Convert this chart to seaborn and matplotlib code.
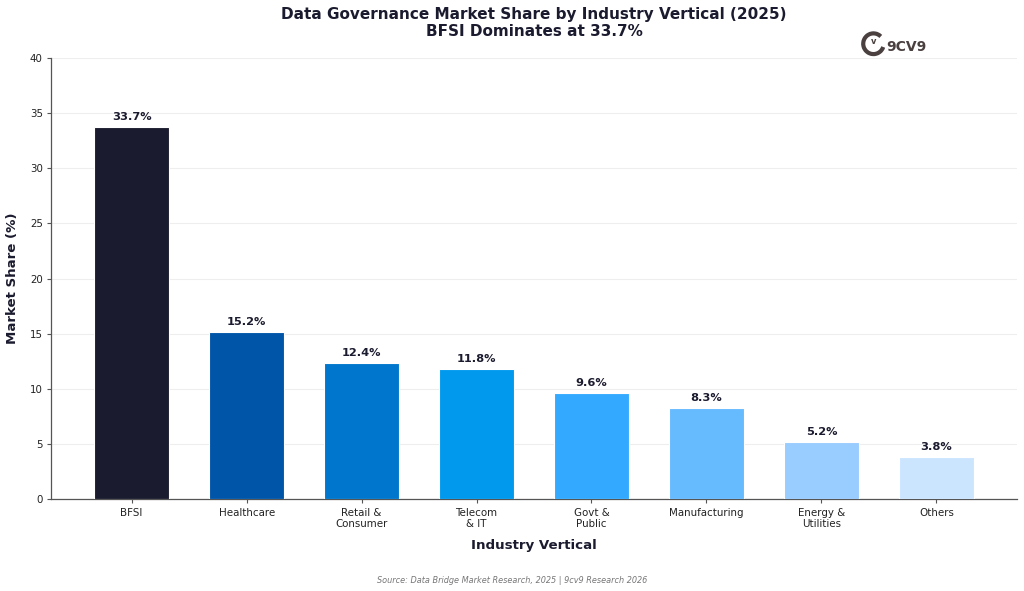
import matplotlib
matplotlib.use("Agg")
import matplotlib.pyplot as plt
import seaborn as sns
import pandas as pd
from matplotlib.patches import Arc

categories = ["BFSI", "Healthcare", "Retail &\nConsumer", "Telecom\n& IT", "Govt &\nPublic",
              "Manufacturing", "Energy &\nUtilities", "Others"]
shares = [33.7, 15.2, 12.4, 11.8, 9.6, 8.3, 5.2, 3.8]
colors = ["#1b1b2f", "#0055a8", "#0077cc", "#0099ee", "#33aaff", "#66bbff", "#99ccff", "#cce5ff"]

df = pd.DataFrame({"cat": categories, "share": shares})

sns.set_theme(style="white")
plt.rcParams['font.family'] = ['DejaVu Sans']

fig, ax = plt.subplots(figsize=(10.24, 5.91), dpi=100)
fig.subplots_adjust(left=0.05, right=0.993, top=0.902, bottom=0.155)

sns.barplot(data=df, x="cat", y="share", hue="cat", palette=colors, legend=False,
            saturation=1, width=0.65, edgecolor="white", linewidth=0.8, ax=ax, zorder=3)

for i, v in enumerate(shares):
    ax.text(i, v + 0.45, f"{v}%", ha="center", va="bottom", fontsize=8.2,
            fontweight="bold", color="#1b1b2f", zorder=4)

ax.set_ylim(0, 40)
ax.set_xlim(-0.7, 7.7)
ax.set_yticks(range(0, 41, 5))
ax.yaxis.grid(True, color="#eeeeee", linewidth=0.8, zorder=0)
ax.set_axisbelow(True)
for s in ["top", "right"]:
    ax.spines[s].set_visible(False)
for s in ["left", "bottom"]:
    ax.spines[s].set_color("#555555")
    ax.spines[s].set_linewidth(0.9)
ax.tick_params(axis="both", labelsize=7.4, colors="#222222", length=3, width=0.8,
               bottom=True, left=True, color="#555555", pad=3)

ax.set_xlabel("Industry Vertical", fontsize=9.6, fontweight="bold", color="#1b1b2f", labelpad=7)
ax.set_ylabel("Market Share (%)", fontsize=9.6, fontweight="bold", color="#1b1b2f", labelpad=8)

ax.set_title("Data Governance Market Share by Industry Vertical (2025)\nBFSI Dominates at 33.7%",
             fontsize=11, fontweight="bold", color="#1b1b2f", pad=15.5, linespacing=1.2)

fig.text(0.5, 0.01, "Source: Data Bridge Market Research, 2025 | 9cv9 Research 2026",
         ha="center", va="bottom", fontsize=5.9, style="italic", color="#777777")

# logo
fig.text(0.865, 0.921, "9CV9", ha="left", va="center", fontsize=10, fontweight="bold",
         color="#4a4040")
arc = Arc((0.853, 0.926), 0.020, 0.035, theta1=60, theta2=330, transform=fig.transFigure,
          color="#4a4040", linewidth=3)
fig.add_artist(arc)
fig.text(0.853, 0.929, "v", ha="center", va="center", fontsize=6, fontweight="bold", color="#4a4040")

fig.savefig("out.png", dpi=100)
